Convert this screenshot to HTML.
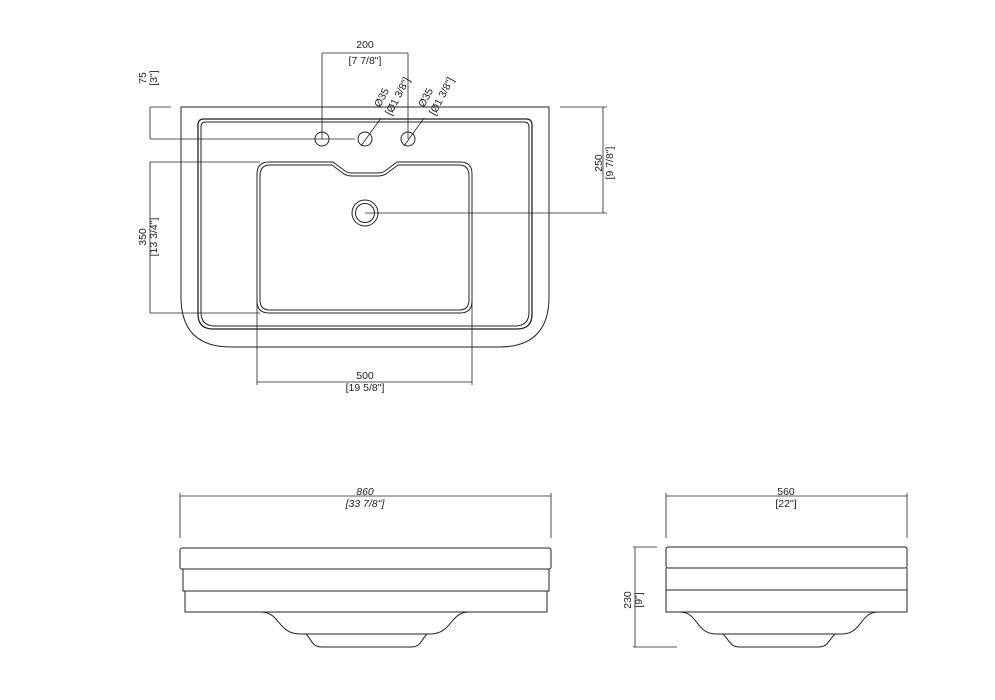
<!DOCTYPE html>
<html><head><meta charset="utf-8"><style>
html,body{margin:0;padding:0;background:#fff;}
svg{display:block;}
text{font-family:"Liberation Sans",sans-serif;font-size:10.5px;fill:#222;}
</style></head><body>
<svg width="995" height="700" viewBox="0 0 995 700" xmlns="http://www.w3.org/2000/svg">
<g fill="none" stroke="#222" stroke-width="1">
<path d="M181,107 H549 V297 Q549,347 499,347 H231 Q181,347 181,297 Z"/>
<path d="M198,125 Q198,119 204,119 H526 Q532,119 532,125 V314 Q532,329 517,329 H213 Q198,329 198,314 Z" stroke-width="1.3"/>
<path d="M201,127 Q201,122 206,122 H524 Q529,122 529,127 V312 Q529,326 515,326 H215 Q201,326 201,312 Z"/>
<path d="M257,174 Q257,162 269,162 H333 L345,171 Q348,173 352,173 H378 Q382,173 385,171 L397,162 H460 Q472,162 472,174 V301 Q472,313 460,313 H269 Q257,313 257,301 Z"/>
<path d="M260,176 Q260,165 270,165 H332 L344,174 Q348,176 352,176 H378 Q382,176 386,174 L398,165 H459 Q469,165 469,176 V300 Q469,310 459,310 H270 Q260,310 260,300 Z"/>
<circle cx="322" cy="139" r="7"/>
<circle cx="365" cy="139" r="7"/>
<circle cx="408" cy="139" r="7"/>
<circle cx="365" cy="213" r="13"/>
<circle cx="365" cy="213" r="9.5"/>
<g stroke-width="0.8">
<path d="M322,53 H408 M322,53 V139 M408,53 V139"/>
<path d="M150,107 V139 M150,107 H171 M150,139 H355"/>
<path d="M150,162 V313 M150,162 H260 M150,313 H260"/>
<path d="M603,107 V213 M560,107 H607 M365,213 H607"/>
<path d="M257,382 H472 M257,292 V385 M472,292 V385"/>
<path d="M361,146 L381,118 M404,146 L424,118"/>
</g>
<rect x="180" y="548" width="371" height="21" rx="2"/>
<path d="M183,569 V591 H549 V569"/>
<path d="M185,591 V612 H547 V591"/>
<path d="M261,612 C280,612 278,634 300,634 H430 C452,634 450,612 469,612"/>
<path d="M306,634 C312,640 312,647 322,647 H411 C421,647 421,640 427,634"/>
<g stroke-width="0.8">
<path d="M180,496 H551 M180,493 V538 M551,493 V538"/>
</g>
<rect x="666" y="547" width="241" height="21" rx="2"/>
<path d="M666,568 V590 H907 V568"/>
<path d="M666,590 V612 H907 V590"/>
<path d="M680,612 C698,612 696,634 716,634 H842 C862,634 860,612 878,612"/>
<path d="M723,634 C730,641 730,647 740,647 H818 C828,647 828,641 835,634"/>
<g stroke-width="0.8">
<path d="M666,496 H907 M666,493 V538 M907,493 V538"/>
<path d="M635,547 V647 M633,547 H657 M633,647 H677"/>
</g>
</g>
<text x="365" y="48" text-anchor="middle">200</text>
<text x="365" y="64" text-anchor="middle">[7 7/8"]</text>
<text transform="translate(146,78) rotate(-90)" text-anchor="middle">75</text>
<text transform="translate(157,78) rotate(-90)" text-anchor="middle">[3"]</text>
<text transform="translate(146,237) rotate(-90)" text-anchor="middle">350</text>
<text transform="translate(157,237) rotate(-90)" text-anchor="middle">[13 3/4"]</text>
<text transform="translate(602,163) rotate(-90)" text-anchor="middle">250</text>
<text transform="translate(613,163) rotate(-90)" text-anchor="middle">[9 7/8"]</text>
<text x="365" y="379" text-anchor="middle">500</text>
<text x="365" y="391" text-anchor="middle">[19 5/8"]</text>
<text transform="translate(380,108) rotate(-62)">Ø35</text>
<text transform="translate(391,116) rotate(-62)">[Ø1 3/8"]</text>
<text transform="translate(424,108) rotate(-62)">Ø35</text>
<text transform="translate(435,116) rotate(-62)">[Ø1 3/8"]</text>
<text x="365" y="495" text-anchor="middle" font-style="italic">860</text>
<text x="365" y="507" text-anchor="middle" font-style="italic">[33 7/8"]</text>
<text x="786" y="495" text-anchor="middle">560</text>
<text x="786" y="507" text-anchor="middle">[22"]</text>
<text transform="translate(631,600) rotate(-90)" text-anchor="middle">230</text>
<text transform="translate(642,600) rotate(-90)" text-anchor="middle">[9"]</text>
</svg>
</body></html>
